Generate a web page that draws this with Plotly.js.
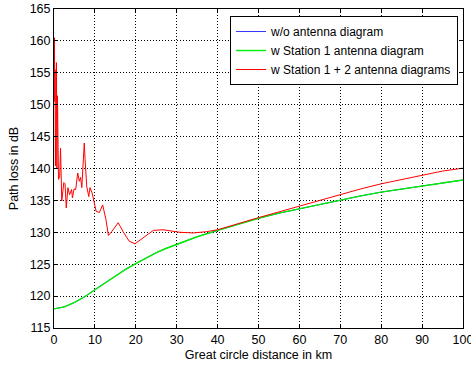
<!DOCTYPE html>
<html>
<head>
<meta charset="utf-8">
<script src="https://cdn.plot.ly/plotly-3.0.1.min.js"></script>
<style>html,body{margin:0;padding:0;background:#fff;}#chart{width:471px;height:367px;}</style>
</head>
<body>
<div id="chart"></div>
<script>
// Series names
const seriesNames = ["w/o antenna diagram", "w Station 1 antenna diagram", "w Station 1 + 2 antenna diagrams"];

// Smooth curves (w/o antenna diagram and Station 1 coincide)
const distSmooth = [0, 2.5, 5, 7.5, 10, 12.5, 15, 17.5, 20, 22.5, 25, 27.5, 30, 35, 40, 45, 50, 55, 60, 65, 70, 75, 80, 85, 90, 95, 100];
const lossNoAntenna = [118.0, 118.3, 119.0, 119.9, 121.0, 122.1, 123.2, 124.2, 125.1, 126.0, 126.8, 127.5, 128.1, 129.3, 130.3, 131.3, 132.2, 133.0, 133.7, 134.4, 135.1, 135.7, 136.3, 136.8, 137.3, 137.8, 138.2];
const lossStation1 = [118.0, 118.3, 119.0, 119.9, 121.0, 122.1, 123.2, 124.2, 125.1, 126.0, 126.8, 127.5, 128.1, 129.3, 130.3, 131.3, 132.2, 133.0, 133.7, 134.4, 135.1, 135.7, 136.3, 136.8, 137.3, 137.8, 138.2];

// Station 1 + 2 curve (irregular sampling)
const distStation12 = [0, 0.1, 0.2, 0.25, 0.35, 0.6, 0.7, 0.85, 1.1, 1.4, 1.6, 1.9, 2.4, 2.7, 3.0, 3.4, 3.8, 4.3, 4.5, 4.9, 5.3, 5.8, 6.2, 6.5, 6.8, 7.1, 7.4, 7.6, 8.0, 8.5, 8.8, 9.3, 10.0, 10.3, 11.1, 11.9, 12.7, 13.3, 14.1, 15.7, 16.9, 18.4, 19.8, 21.8, 24.3, 26.7, 29.2, 30.8, 34.1, 37.3, 40, 45, 50, 55, 60, 65, 70, 75, 80, 85, 90, 95, 100];
const lossStation12 = [157.0, 160.5, 150.5, 155.5, 140.4, 156.6, 140.0, 151.4, 138.3, 138.8, 143.2, 134.9, 137.8, 137.6, 133.8, 137.0, 135.9, 136.7, 135.4, 136.8, 136.7, 139.3, 138.0, 138.6, 137.0, 141.4, 144.0, 141.4, 137.2, 135.6, 137.0, 136.2, 134.0, 133.3, 133.1, 134.3, 132.0, 129.5, 130.1, 131.5, 130.1, 128.6, 128.2, 129.1, 130.3, 130.4, 130.1, 130.0, 129.9, 130.1, 130.4, 131.4, 132.3, 133.2, 134.1, 135.0, 135.95, 136.8, 137.6, 138.3, 139.0, 139.6, 140.05];

// Axis ticks
const xTicks = [0, 10, 20, 30, 40, 50, 60, 70, 80, 90, 100];
const yTicks = [115, 120, 125, 130, 135, 140, 145, 150, 155, 160, 165];

const FONT = "Liberation Sans, Arial, sans-serif";

const traces = [
  {x: distSmooth, y: lossNoAntenna, name: seriesNames[0], mode: "lines", line: {color: "#0000ff", width: 0.8}},
  {x: distSmooth, y: lossStation1, name: seriesNames[1], mode: "lines", line: {color: "#00ee00", width: 1.4}},
  {x: distStation12, y: lossStation12, name: seriesNames[2], mode: "lines", line: {color: "#ff0000", width: 1}}
];

const axisCommon = {
  showline: true, linecolor: "#000", linewidth: 1, mirror: "ticks",
  ticks: "inside", ticklen: 4, tickcolor: "#000",
  showgrid: true, gridcolor: "#000", griddash: "1px,2px", gridwidth: 1,
  zeroline: false, tickfont: {family: FONT, size: 12.5, color: "#000"},
  ticklabeloverflow: "allow"
};

const layout = {
  width: 471, height: 367,
  margin: {l: 54, r: 8, t: 9, b: 39},
  paper_bgcolor: "#fff", plot_bgcolor: "#fff",
  font: {family: FONT, size: 12, color: "#000"},
  xaxis: Object.assign({}, axisCommon, {
    range: [0, 100], tickvals: xTicks, ticktext: xTicks.map(String),
    title: {text: "Great circle distance in km", font: {family: FONT, size: 12.5}, standoff: 4}
  }),
  yaxis: Object.assign({}, axisCommon, {
    range: [115, 165], tickvals: yTicks, ticktext: yTicks.map(String),
    title: {text: "Path loss in dB", font: {family: FONT, size: 12.5}, standoff: 8}
  }),
  legend: {
    x: 0.988, y: 0.978, xanchor: "right", yanchor: "top",
    bordercolor: "#000", borderwidth: 1, bgcolor: "#fff",
    font: {family: FONT, size: 12, color: "#000"},
    tracegroupgap: 0
  },
  showlegend: true
};

Plotly.newPlot("chart", traces, layout, {staticPlot: true, displayModeBar: false});
</script>
</body>
</html>
